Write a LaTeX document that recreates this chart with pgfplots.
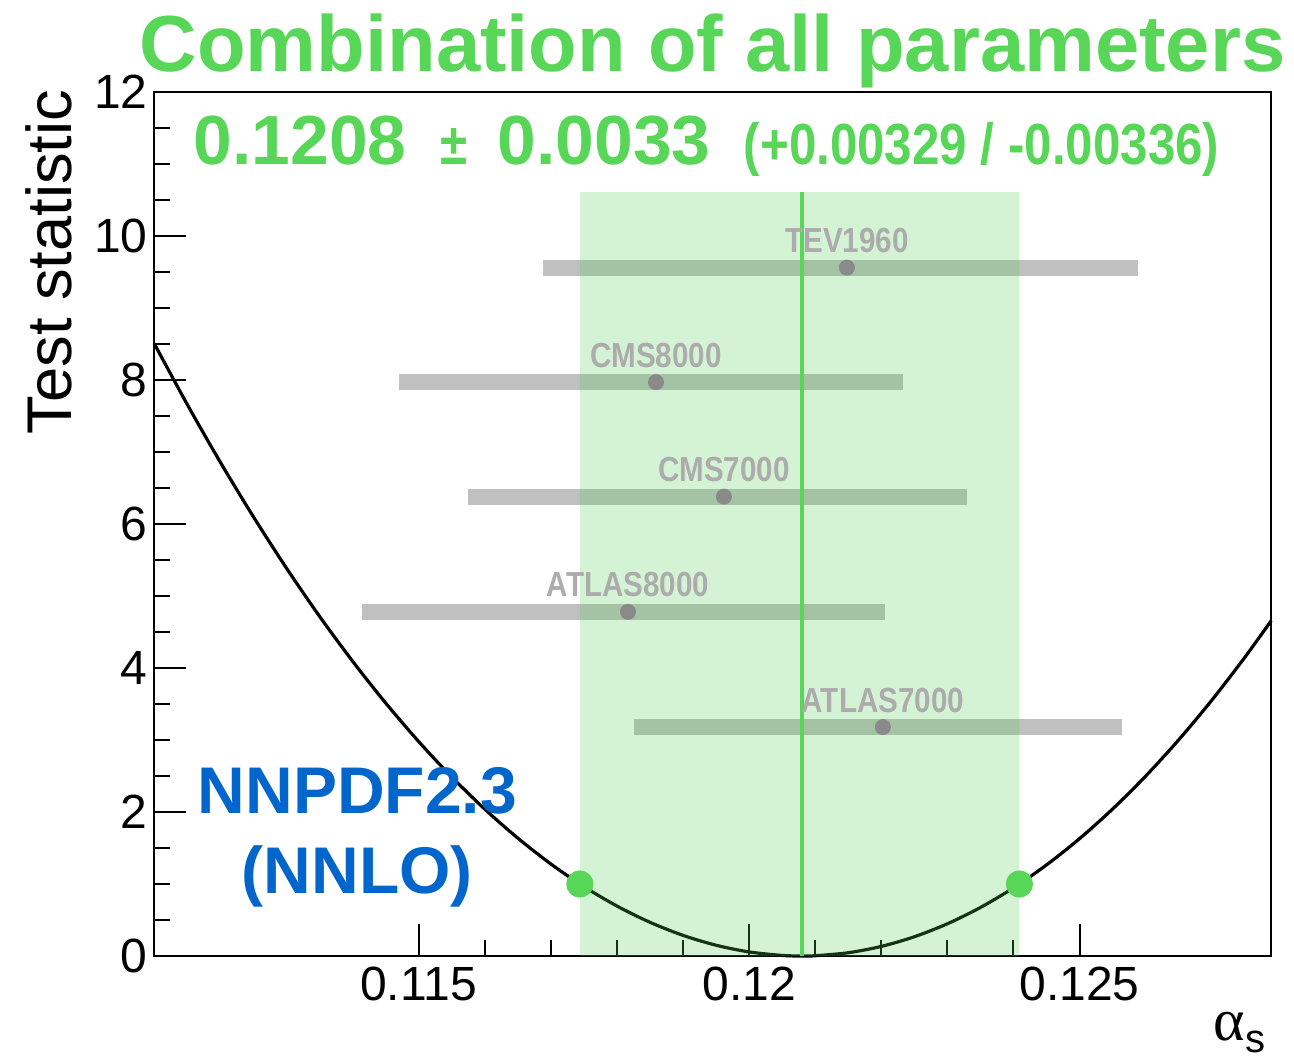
\documentclass[border=0pt]{standalone}
\usepackage{fontspec}
\setmainfont{Liberation Sans}
\newfontfamily\greekfont{Liberation Serif}
\usepackage{pgfplots}
\pgfplotsset{compat=1.18}
\usepackage{pgfplotstable}

\definecolor{titlegreen}{RGB}{87,214,87}
\definecolor{bandgreen}{RGB}{86,204,86}
\definecolor{nnblue}{RGB}{0,102,204}
\definecolor{bargray}{RGB}{192,192,192}
\definecolor{dotgray}{RGB}{138,138,138}
\definecolor{labelgray}{RGB}{172,172,172}

% individual alpha_s determinations: central value, lower/upper uncertainty
\pgfplotstableread{
x        y     em        ep        label
0.12148  9.56  0.004598  0.004403  TEV1960
0.118592 7.97  0.003888  0.003735  CMS8000
0.11962  6.38  0.003873  0.003675  CMS7000
0.118168 4.78  0.004024  0.003887  ATLAS8000
0.122025 3.18  0.003767  0.003616  ATLAS7000
}\measurements

% combined test statistic scan
\pgfplotstableread{
x       chi
0.1110  8.507
0.1115  7.661
0.1120  6.859
0.1125  6.102
0.1130  5.389
0.1135  4.720
0.1140  4.096
0.1145  3.516
0.1150  2.980
0.1155  2.488
0.1160  2.041
0.1165  1.638
0.1170  1.279
0.1175  0.9646
0.1180  0.6944
0.1185  0.4686
0.1190  0.2870
0.1195  0.1497
0.1200  0.0567
0.1205  0.0080
0.1208  0.0000
0.1210  0.0037
0.1215  0.0453
0.1220  0.1330
0.1225  0.2670
0.1230  0.4472
0.1235  0.6735
0.1240  0.9460
0.1245  1.2648
0.1250  1.6297
0.1255  2.0408
0.1260  2.4981
0.1265  3.0016
0.1270  3.5513
0.1275  4.1472
0.1279  4.6572
}\scan

\begin{document}
\begin{tikzpicture}
\useasboundingbox (-38.55pt,-26pt) rectangle (284.95pt,239pt);
\begin{axis}[
  scale only axis, width=279.25pt, height=216pt,
  xmin=0.111, xmax=0.1279, ymin=0, ymax=12,
  xtick={0.115,0.12,0.125}, xticklabels={0.115,0.12,0.125},
  scaled x ticks=false,
  minor x tick num=4,
  ytick={0,2,4,6,8,10,12}, minor y tick num=3,
  tick pos=left, tick align=inside,
  major tick length=8pt, minor tick length=4pt,
  axis line style={line width=0.5pt},
  every tick/.style={black, line width=0.5pt},
  tick label style={font=\fontsize{12}{14}\selectfont},
  /pgf/number format/assume math mode=true,
  xticklabel style={inner sep=0pt, yshift=-2.5pt},
  yticklabel style={inner sep=0pt, xshift=-1.5pt},
  clip=false,
]
% test statistic curve
\addplot[black, line width=0.8pt, smooth] table[x=x, y=chi] {\scan};

% uncertainty bars of the individual inputs (no marks of their own)
\addplot[color=bargray, only marks, mark=*, mark options={draw=none, fill=none, opacity=0},
  error bars/.cd, x dir=both, x explicit, error mark=none,
  error bar style={line width=4pt, bargray, opacity=1}]
  table[x=x, y=y, x error minus=em, x error plus=ep] {\measurements};

% central values with dataset names
\addplot[color=dotgray, only marks, mark=*, mark size=1.8pt,
  mark options={solid, draw=dotgray, fill=dotgray},
  point meta=explicit symbolic,
  nodes near coords={\scalebox{0.85}[1]{\pgfplotspointmeta}},
  every node near coord/.append style={anchor=base, yshift=3.75pt,
    inner sep=0pt, text=labelgray, font=\fontsize{8.7}{10}\selectfont\bfseries}]
  table[x=x, y=y, meta=label] {\measurements};

% one-sigma band of the combination
\addplot[draw=none, fill=bandgreen, fill opacity=0.254]
  coordinates {(0.11744,0) (0.11744,10.61) (0.12409,10.61) (0.12409,0)} \closedcycle;

% combined central value
\addplot[titlegreen, line width=1.2pt] coordinates {(0.1208,0) (0.1208,10.61)};

% crossing points at test statistic = 1
\addplot[only marks, mark=*, mark size=3.2pt, color=titlegreen,
  mark options={draw=titlegreen, fill=titlegreen}]
  coordinates {(0.11744,1) (0.12409,1)};
\end{axis}

\node[anchor=base, inner sep=0pt, text=titlegreen,
  font=\fontsize{19.9}{24}\selectfont\bfseries] at (139.6pt,221pt) {Combination of all parameters};
\node[anchor=base west, inner sep=0pt, text=titlegreen,
  font=\fontsize{17.4}{20}\selectfont\bfseries] at (9.7pt,197.75pt) {0.1208};
\node[anchor=base west, inner sep=0pt, text=titlegreen,
  font=\fontsize{14.5}{17}\selectfont\bfseries] at (71.45pt,197.75pt) {\scalebox{0.85}[1]{±}};
\node[anchor=base west, inner sep=0pt, text=titlegreen,
  font=\fontsize{17.4}{20}\selectfont\bfseries] at (85.7pt,197.75pt) {0.0033};
\node[anchor=base west, inner sep=0pt, text=titlegreen,
  font=\fontsize{14.5}{17}\selectfont\bfseries] at (147.2pt,197.75pt) {\scalebox{0.85}[1]{(+0.00329 / -0.00336)}};

\node[anchor=base, inner sep=0pt, text=nnblue,
  font=\fontsize{16.5}{20}\selectfont\bfseries] at (50.8pt,35.75pt) {NNPDF2.3};
\node[anchor=base, inner sep=0pt, text=nnblue,
  font=\fontsize{16.5}{20}\selectfont\bfseries] at (50.8pt,15.75pt) {(NNLO)};

\node[rotate=90, anchor=base, inner sep=0pt,
  font=\fontsize{15.8}{19}\selectfont] at (-20.55pt,173.5pt) {Test statistic};

\node[anchor=base west, inner sep=0pt] at (264.7pt,-21pt)
  {\fontsize{15}{18}\selectfont\greekfont α\raisebox{-3pt}{\fontsize{10}{12}\selectfont\rmfamily s}};
\end{tikzpicture}
\end{document}
